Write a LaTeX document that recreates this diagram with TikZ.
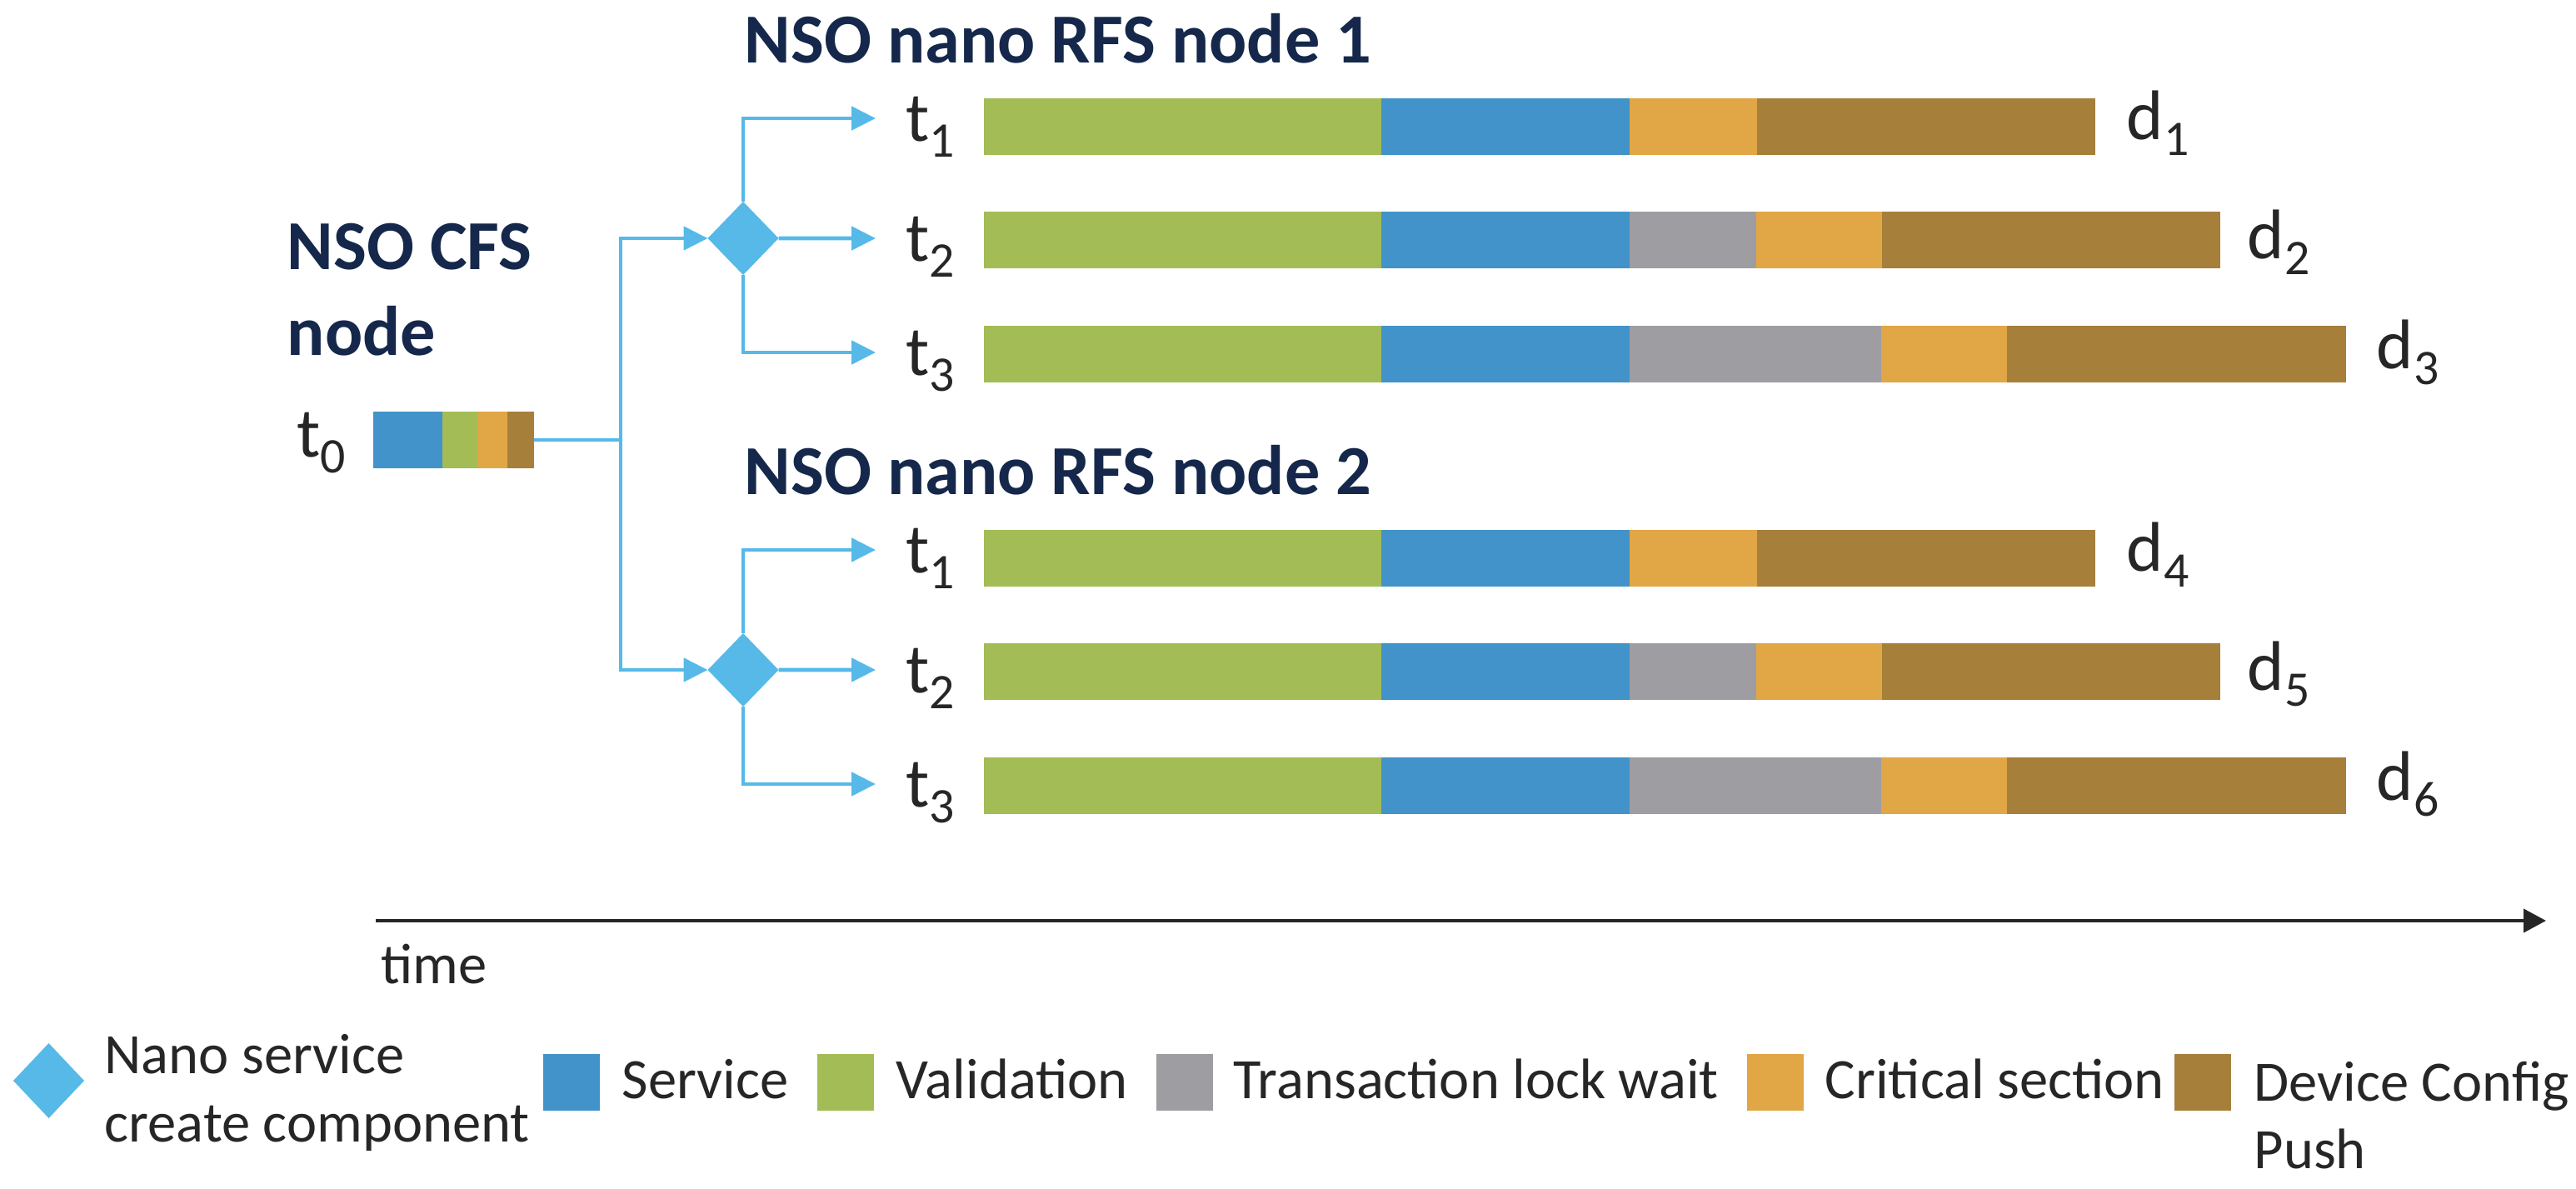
\documentclass[tikz,border=0pt]{standalone}
\usepackage{fontspec}
\setmainfont{Carlito}
\usetikzlibrary{shapes.geometric, positioning, arrows.meta}
\definecolor{valid}{HTML}{A3BC55}
\definecolor{service}{HTML}{4293C9}
\definecolor{lockwait}{HTML}{9E9DA2}
\definecolor{critical}{HTML}{E1A645}
\definecolor{devpush}{HTML}{A67F3B}
\definecolor{flowblue}{HTML}{56B9E8}
\definecolor{navy}{HTML}{15284B}
\definecolor{ink}{HTML}{262626}
\newcommand{\lbl}[2]{#1\raisebox{-0.19cm}{\fontsize{17}{17}\selectfont #2}}
\tikzset{seg/.style={minimum height=6.8mm, inner sep=0pt, outer sep=0pt},
         tlab/.style={anchor=base west, inner xsep=3.6mm, inner ysep=0pt, outer sep=0pt, text=ink, font=\fontsize{24}{28}\selectfont},
         dlab/.style={anchor=base west, inner sep=0pt, text=ink, font=\fontsize{24}{28}\selectfont},
         headline/.style={inner sep=0pt, text=navy, font=\fontsize{24}{29.3}\selectfont\bfseries},
         nanodia/.style={diamond, fill=flowblue, minimum width=8.5mm, minimum height=8.8mm, inner sep=0pt, outer sep=0pt},
         flow/.style={flowblue, line width=1.4pt, -{Triangle[length=2.9mm, width=2.8mm]}},
         legtext/.style={inner sep=0pt, text=ink, font=\fontsize{19.5}{23.3}\selectfont},
         legbox/.style={minimum size=6.8mm, inner sep=0pt, outer sep=0pt},
        }

\begin{document}
\begin{tikzpicture}
    \useasboundingbox (0,0) rectangle (30.92,-14.26);

    % CFS node
    \node[headline, anchor=north west, align=left] (cfs) at (3.44,-2.67) {NSO CFS\\node};
    \node[tlab, inner xsep=0pt] (t0) at (3.56,-5.48) {\lbl{t}{0}};
    \node[seg, fill=service, minimum width=8.3mm, anchor=west] (cs) at (4.48,-5.28) {};
    \node[seg, fill=valid, minimum width=4.2mm, right=0pt of cs] (cv) {};
    \node[seg, fill=critical, minimum width=3.6mm, right=0pt of cv] (cc) {};
    \node[seg, fill=devpush, minimum width=3.2mm, right=0pt of cc] (cp) {};
    \coordinate (split) at (7.45,-5.28);
    \draw[flowblue, line width=1.4pt] (cp.east) -- (split);

    \node[nanodia] (dia1) at (8.92,-2.86) {};
    \node[nanodia] (dia2) at (8.92,-8.04) {};
    \draw[flow] (split) |- (dia1.west);
    \draw[flow] (split) |- (dia2.west);

    % RFS node 1
    \node[headline, anchor=base west] (rfs1) at (8.93,-0.75) {NSO nano RFS node 1};
    \node[tlab] (t11) at (10.51,-1.695) {\lbl{t}{1}};
    \node[tlab] (t12) at (10.51,-3.135) {\lbl{t}{2}};
    \node[tlab] (t13) at (10.51,-4.505) {\lbl{t}{3}};
    \draw[flow] (dia1.north) |- ([yshift=2.75mm]t11.base west);
    \draw[flow] (dia1.east) -- ([yshift=2.75mm]t12.base west);
    \draw[flow] (dia1.south) |- ([yshift=2.75mm]t13.base west);

    \node[seg, fill=valid, minimum width=47.7mm, anchor=west] (v11) at (11.81,-1.52) {};
    \node[seg, fill=service, minimum width=29.8mm, right=0pt of v11] (s11) {};
    \node[seg, fill=critical, minimum width=15.3mm, right=0pt of s11] (c11) {};
    \node[seg, fill=devpush, minimum width=40.6mm, right=0pt of c11] (p11) {};
    \node[dlab] (d1) at (25.52,-1.67) {\lbl{d}{1}};

    \node[seg, fill=valid, minimum width=47.7mm, anchor=west] (v12) at (11.81,-2.88) {};
    \node[seg, fill=service, minimum width=29.8mm, right=0pt of v12] (s12) {};
    \node[seg, fill=lockwait, minimum width=15.2mm, right=0pt of s12] (l12) {};
    \node[seg, fill=critical, minimum width=15.1mm, right=0pt of l12] (c12) {};
    \node[seg, fill=devpush, minimum width=40.6mm, right=0pt of c12] (p12) {};
    \node[dlab] (d2) at (26.97,-3.10) {\lbl{d}{2}};

    \node[seg, fill=valid, minimum width=47.7mm, anchor=west] (v13) at (11.81,-4.25) {};
    \node[seg, fill=service, minimum width=29.8mm, right=0pt of v13] (s13) {};
    \node[seg, fill=lockwait, minimum width=30.2mm, right=0pt of s13] (l13) {};
    \node[seg, fill=critical, minimum width=15.1mm, right=0pt of l13] (c13) {};
    \node[seg, fill=devpush, minimum width=40.7mm, right=0pt of c13] (p13) {};
    \node[dlab] (d3) at (28.52,-4.42) {\lbl{d}{3}};

    % RFS node 2
    \node[headline, anchor=base west] (rfs2) at (8.93,-5.93) {NSO nano RFS node 2};
    \node[tlab] (t21) at (10.51,-6.875) {\lbl{t}{1}};
    \node[tlab] (t22) at (10.51,-8.315) {\lbl{t}{2}};
    \node[tlab] (t23) at (10.51,-9.685) {\lbl{t}{3}};
    \draw[flow] (dia2.north) |- ([yshift=2.75mm]t21.base west);
    \draw[flow] (dia2.east) -- ([yshift=2.75mm]t22.base west);
    \draw[flow] (dia2.south) |- ([yshift=2.75mm]t23.base west);

    \node[seg, fill=valid, minimum width=47.7mm, anchor=west] (v21) at (11.81,-6.70) {};
    \node[seg, fill=service, minimum width=29.8mm, right=0pt of v21] (s21) {};
    \node[seg, fill=critical, minimum width=15.3mm, right=0pt of s21] (c21) {};
    \node[seg, fill=devpush, minimum width=40.6mm, right=0pt of c21] (p21) {};
    \node[dlab] (d4) at (25.52,-6.85) {\lbl{d}{4}};

    \node[seg, fill=valid, minimum width=47.7mm, anchor=west] (v22) at (11.81,-8.06) {};
    \node[seg, fill=service, minimum width=29.8mm, right=0pt of v22] (s22) {};
    \node[seg, fill=lockwait, minimum width=15.2mm, right=0pt of s22] (l22) {};
    \node[seg, fill=critical, minimum width=15.1mm, right=0pt of l22] (c22) {};
    \node[seg, fill=devpush, minimum width=40.6mm, right=0pt of c22] (p22) {};
    \node[dlab] (d5) at (26.97,-8.28) {\lbl{d}{5}};

    \node[seg, fill=valid, minimum width=47.7mm, anchor=west] (v23) at (11.81,-9.43) {};
    \node[seg, fill=service, minimum width=29.8mm, right=0pt of v23] (s23) {};
    \node[seg, fill=lockwait, minimum width=30.2mm, right=0pt of s23] (l23) {};
    \node[seg, fill=critical, minimum width=15.1mm, right=0pt of l23] (c23) {};
    \node[seg, fill=devpush, minimum width=40.7mm, right=0pt of c23] (p23) {};
    \node[dlab] (d6) at (28.52,-9.60) {\lbl{d}{6}};

    % time axis
    \coordinate (tstart) at (4.51,-11.05);
    \coordinate (tend) at (30.56,-11.05);
    \draw[ink, line width=1.15pt, -{Triangle[length=2.7mm, width=2.8mm]}] (tstart) -- (tend);
    \node[legtext, anchor=base west] (time) at (4.57,-11.80) {time};

    % legend
    \node[nanodia, minimum height=9mm] (legdia) at (0.585,-12.97) {};
    \node[legtext, anchor=north west, align=left] (legnano) at (1.25,-12.41) {Nano service\\create component};
    \node[legbox, fill=service] (legsvc) at (6.86,-12.99) {};
    \node[legtext, anchor=base west] (txtsvc) at (7.46,-13.18) {Service};
    \node[legbox, fill=valid] (legval) at (10.15,-12.99) {};
    \node[legtext, anchor=base west] (txtval) at (10.75,-13.18) {Validation};
    \node[legbox, fill=lockwait] (leglock) at (14.22,-12.99) {};
    \node[legtext, anchor=base west] (txtlock) at (14.80,-13.18) {Transaction lock wait};
    \node[legbox, fill=critical] (legcrit) at (21.31,-12.99) {};
    \node[legtext, anchor=base west] (txtcrit) at (21.90,-13.18) {Critical section};
    \node[legbox, fill=devpush] (legpush) at (26.44,-12.99) {};
    \node[legtext, anchor=north west, align=left] (txtpush) at (27.05,-12.73) {Device Config\\Push};
\end{tikzpicture}
\end{document}
